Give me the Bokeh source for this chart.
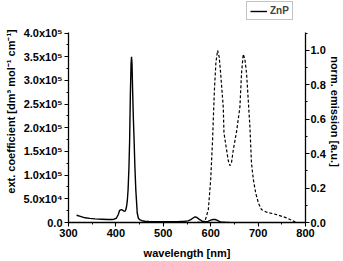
import numpy as np
from bokeh.plotting import figure
from bokeh.models import (Range1d, LinearAxis, FixedTicker, Legend, LegendItem)
from bokeh.embed import file_html
from bokeh.resources import INLINE

# absorption (ext. coefficient) of ZnP
abs_wl = [317, 325, 335, 345, 356, 370, 384, 391, 396, 401, 405, 408, 411.5, 414, 417.3, 420, 422,
          424, 425.7, 427.5, 429, 430.5, 432, 433, 434, 435.5, 437, 438.4, 440, 442, 445, 447.5,
          450, 455, 461, 470, 490, 510, 530, 545, 552, 558, 563, 567, 571, 576, 582, 588, 594,
          600, 605, 609, 613, 617, 621, 630, 640]
abs_val = [15300, 13000, 9900, 8800, 7700, 7000, 6300, 6300, 7000, 9000, 17000, 25800, 27300, 26000,
           23800, 24500, 31000, 45000, 69000, 115000, 174000, 270000, 335000, 350000, 335000, 270000,
           215000, 174000, 120000, 69000, 20000, 9000, 6000, 3800, 2700, 2000, 1500, 1500, 1800,
           2600, 3500, 6000, 9500, 12000, 10500, 6500, 3000, 1500, 2500, 5000, 6300, 6300, 5000,
           2800, 1300, 600, 300]

# normalized emission
em_wl = [570, 580, 588, 595, 600, 604, 605.5, 608, 611, 614.6, 618, 621, 626.5, 628, 633.6, 637,
         640.6, 644, 647.6, 654.7, 661.6, 665, 668.6, 672, 675.7, 682.7, 686, 690, 695, 701, 707,
         718, 739, 760, 777.5, 782]
em_val = [0.0, 0.004, 0.008, 0.075, 0.25, 0.48, 0.6, 0.78, 0.93, 1.0, 0.96, 0.865, 0.67, 0.52,
          0.42, 0.36, 0.33, 0.35, 0.42, 0.53, 0.67, 0.865, 0.977, 0.95, 0.865, 0.557, 0.345,
          0.25, 0.17, 0.11, 0.075, 0.06, 0.046, 0.027, 0.004, 0.0]

x_ticks = [300, 400, 500, 600, 700, 800]
y_ticks = [0, 50000, 100000, 150000, 200000, 250000, 300000, 350000, 400000]
y_labels = ["0.0", "5.0x10⁴", "1.0x10⁵", "1.5x10⁵", "2.0x10⁵", "2.5x10⁵", "3.0x10⁵", "3.5x10⁵", "4.0x10⁵"]
em_ticks = [0.0, 0.2, 0.4, 0.6, 0.8, 1.0]
em_labels = ["0.0", "0.2", "0.4", "0.6", "0.8", "1.0"]

FONT = "Liberation Sans"
FS = "11px"

# frame spans the full top (legend lives inside it); axes are bounded
FRAME_H = 223.0
Y_AX_TOP = 402000
EM_AX_TOP = 1.1056
y_top = 400000 * FRAME_H / 190.3
em_top = FRAME_H / 173.0

p = figure(width=343, height=261, output_backend="svg", toolbar_location=None,
           x_range=Range1d(300, 800), y_range=Range1d(0, y_top),
           min_border_left=68, min_border_right=37, min_border_top=0, min_border_bottom=38)
p.outline_line_color = None
p.xgrid.visible = False
p.ygrid.visible = False
p.background_fill_color = "white"

p.extra_y_ranges = {"em": Range1d(0, em_top)}

def style_axis(ax):
    ax.axis_line_color = "black"
    ax.axis_line_width = 1.3
    ax.major_tick_line_color = "black"
    ax.minor_tick_line_color = "black"
    ax.major_tick_line_width = 1.1
    ax.minor_tick_line_width = 1
    ax.major_tick_out = 4
    ax.major_tick_in = 0
    ax.minor_tick_out = 2
    ax.minor_tick_in = 0
    ax.major_label_text_font = FONT
    ax.major_label_text_font_size = FS
    ax.major_label_text_font_style = "bold"
    ax.major_label_text_color = "black"
    ax.axis_label_text_font = FONT
    ax.axis_label_text_font_size = FS
    ax.axis_label_text_font_style = "bold"
    ax.axis_label_text_color = "black"
    ax.major_label_standoff = 2
    ax.axis_label_standoff = 3

xa = p.xaxis[0]
xa.ticker = FixedTicker(ticks=x_ticks, minor_ticks=list(np.arange(300, 801, 50)))
xa.axis_label = "wavelength [nm]"
style_axis(xa)
xa.axis_label_standoff = 7

ya = p.yaxis[0]
ya.ticker = FixedTicker(ticks=y_ticks, minor_ticks=list(np.arange(0, 400001, 25000)))
ya.major_label_overrides = {float(t): l for t, l in zip(y_ticks, y_labels)}
ya.axis_label = "ext. coefficient [dm³ mol⁻¹ cm⁻¹]"
ya.bounds = (0, Y_AX_TOP)
style_axis(ya)

ra = LinearAxis(y_range_name="em", axis_label="norm. emission [a.u.]",
                ticker=FixedTicker(ticks=em_ticks, minor_ticks=list(np.arange(0, 1.101, 0.1))))
ra.major_label_overrides = {float(t): l for t, l in zip(em_ticks, em_labels)}
ra.bounds = (0, EM_AX_TOP)
style_axis(ra)
ra.major_label_standoff = 1
ra.axis_label_standoff = 0
p.add_layout(ra, "right")

r_abs = p.line(abs_wl, abs_val, line_color="black", line_width=1.4)
p.line(em_wl, em_val, y_range_name="em", line_color="black", line_width=1.2, line_dash="3 2")

legend = Legend(items=[LegendItem(label="ZnP", renderers=[r_abs])],
                location=(178, 202), orientation="horizontal",
                label_text_font=FONT, label_text_font_size="10px", label_text_font_style="bold",
                label_standoff=3, glyph_width=17, glyph_height=10,
                label_width=10, label_height=10,
                padding=3, margin=0, spacing=0,
                border_line_color="#888888", border_line_width=1,
                background_fill_alpha=1)
p.add_layout(legend, "center")

open("out.html", "w").write(file_html(p, INLINE))
